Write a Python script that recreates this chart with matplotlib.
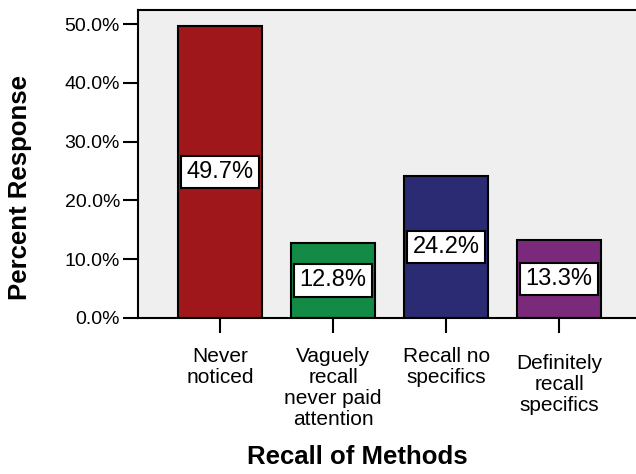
import matplotlib
matplotlib.use("Agg")
from matplotlib import pyplot as plt
import numpy as np

plt.rcParams['font.family'] = ['Liberation Sans', 'DejaVu Sans']

# data
categories = ['Never\nnoticed', 'Vaguely\nrecall\nnever paid\nattention',
              'Recall no\nspecifics', 'Definitely\nrecall\nspecifics']
values = [49.7, 12.8, 24.2, 13.3]
colors = ['#A0171B', '#138A45', '#2A2B72', '#7B2A7B']

fig = plt.figure(figsize=(6.36, 4.74), dpi=100)
ax = fig.add_axes([138/636, 1 - 318/474, (636 - 138)/636, (318 - 10)/474])
ax.set_facecolor('#EFEFEF')

x = np.arange(len(values))
ax.bar(x, values, width=0.745, color=colors, edgecolor='black', linewidth=1.5, zorder=2)

for xi, v in zip(x, values):
    ax.text(xi, v / 2, '%.1f%%' % v, ha='center', va='center', fontsize=17, zorder=3,
            bbox=dict(boxstyle='square,pad=0.22', facecolor='white', edgecolor='black', linewidth=1.5))

ax.set_xlim(-0.726, 3.68)
ax.set_ylim(0, 52.4)
ax.set_yticks([0, 10, 20, 30, 40, 50])
ax.set_yticklabels(['%.1f%%' % t for t in [0, 10, 20, 30, 40, 50]], fontsize=14)
ax.set_xticks(x)
ax.set_xticklabels(categories, fontsize=15, linespacing=1.12, va='top')
ax.tick_params(axis='both', length=11, width=1.5, color='black')
ax.tick_params(axis='x', pad=10)
ax.tick_params(axis='y', pad=2)
ax.spines['right'].set_visible(False)
for s in ['left', 'top', 'bottom']:
    ax.spines[s].set_linewidth(1.5)

# last category label sits a little lower in the original
ax.get_xticklabels()[3].set_y(-0.022)

fig.text(20/636, 1 - 187/474, 'Percent Response', rotation=90, ha='center', va='center',
         fontsize=18.5, fontweight='bold')
fig.text(357/636, 1 - 457/474, 'Recall of Methods', ha='center', va='center',
         fontsize=18.5, fontweight='bold')

fig.savefig('out.png', dpi=100)
